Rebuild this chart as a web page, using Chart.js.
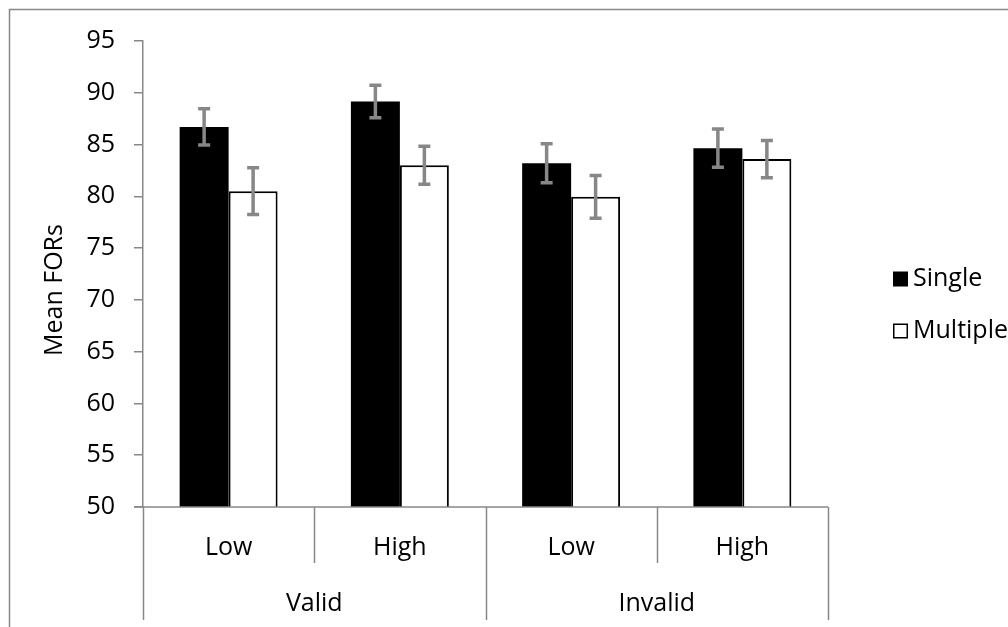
<!DOCTYPE html>
<html>
<head>
<meta charset="utf-8">
<script src="https://cdn.jsdelivr.net/npm/chart.js@4.4.1/dist/chart.umd.min.js"></script>
<style>
  html, body { margin: 0; padding: 0; background: #ffffff; }
  #wrap { width: 1008px; height: 627px; overflow: hidden; }
</style>
</head>
<body>
<div id="wrap"><canvas id="c" width="1008" height="627"></canvas></div>
<script>
// ---- data ----
const groups = ['Valid', 'Invalid'];
const levels = ['Low', 'High', 'Low', 'High'];
const seriesNames = ['Single', 'Multiple'];
const singleValues = [86.7, 89.15, 83.2, 84.65];
const singleErrors = [1.75, 1.57, 1.88, 1.85];
const multipleValues = [80.5, 83.0, 79.95, 83.6];
const multipleErrors = [2.25, 1.83, 2.07, 1.8];
const yTicks = [50, 55, 60, 65, 70, 75, 80, 85, 90, 95];
const yTitle = 'Mean FORs';

const FONT = '"Open Sans", "DejaVu Sans", sans-serif';
const GRAY = '#878787';
const ERR = '#878787';

const errors = [singleErrors, multipleErrors];

const framePlugin = {
  id: 'frame',
  beforeDraw(chart) {
    const ctx = chart.ctx;
    ctx.save();
    ctx.fillStyle = '#ffffff';
    ctx.fillRect(0, 0, chart.width, chart.height);
    ctx.strokeStyle = GRAY;
    ctx.lineWidth = 1.5;
    ctx.strokeRect(9.5, 9.5, 1200, 800);
    ctx.restore();
  }
};

const errorBarPlugin = {
  id: 'errorBars',
  afterDatasetsDraw(chart) {
    const ctx = chart.ctx;
    const y = chart.scales.y;
    ctx.save();
    ctx.strokeStyle = ERR;
    ctx.lineWidth = 3.5;
    chart.data.datasets.forEach((ds, di) => {
      const meta = chart.getDatasetMeta(di);
      meta.data.forEach((bar, i) => {
        const v = ds.data[i];
        const e = errors[di][i];
        const yt = y.getPixelForValue(v + e);
        const yb = y.getPixelForValue(v - e);
        const x = bar.x;
        const cap = 6;
        ctx.beginPath();
        ctx.moveTo(x, yt); ctx.lineTo(x, yb);
        ctx.moveTo(x - cap, yt); ctx.lineTo(x + cap, yt);
        ctx.moveTo(x - cap, yb); ctx.lineTo(x + cap, yb);
        ctx.stroke();
      });
    });
    ctx.restore();
  }
};

const axisPlugin = {
  id: 'hierAxis',
  afterDraw(chart) {
    const ctx = chart.ctx;
    const xs = chart.scales.x;
    const area = chart.chartArea;
    const n = levels.length;
    const step = (area.right - area.left) / n;
    ctx.save();
    ctx.strokeStyle = GRAY;
    ctx.lineWidth = 1.5;
    // x axis line
    ctx.beginPath();
    ctx.moveTo(area.left - 9, area.bottom);
    ctx.lineTo(area.right, area.bottom);
    ctx.stroke();
    // dividers
    for (let i = 0; i <= n; i++) {
      const x = Math.round(area.left + i * step) + 0.5;
      const outer = (i % 2 === 0);
      ctx.beginPath();
      ctx.moveTo(x, area.bottom);
      ctx.lineTo(x, area.bottom + (outer ? 113 : 56));
      ctx.stroke();
    }
    // level labels
    ctx.fillStyle = '#000000';
    ctx.font = '25px ' + FONT;
    ctx.textAlign = 'center';
    ctx.textBaseline = 'alphabetic';
    levels.forEach((lab, i) => {
      const x = xs.getPixelForValue(i);
      ctx.fillText(lab, x, area.bottom + 48);
    });
    groups.forEach((g, gi) => {
      const x = (xs.getPixelForValue(gi * 2) + xs.getPixelForValue(gi * 2 + 1)) / 2;
      ctx.fillText(g, x, area.bottom + 104);
    });
    // y title
    ctx.save();
    ctx.translate(62, 290);
    ctx.rotate(-Math.PI / 2);
    ctx.textAlign = 'center';
    ctx.textBaseline = 'alphabetic';
    ctx.fillText(yTitle, 0, 0);
    ctx.restore();
    // legend
    const lx = 893, ly = [279, 331];
    ctx.textAlign = 'left';
    ctx.textBaseline = 'middle';
    seriesNames.forEach((name, i) => {
      const sq = 15;
      if (i === 0) {
        ctx.fillStyle = '#000000';
        ctx.fillRect(lx, ly[i] - sq / 2, sq, sq);
      } else {
        ctx.fillStyle = '#ffffff';
        ctx.fillRect(lx, ly[i] - sq / 2, sq, sq);
        ctx.strokeStyle = '#000000';
        ctx.lineWidth = 1.5;
        ctx.strokeRect(lx + 0.75, ly[i] - sq / 2 + 0.75, sq - 1.5, sq - 1.5);
      }
      ctx.fillStyle = '#000000';
      ctx.fillText(name, lx + 20, ly[i]);
    });
    ctx.restore();
  }
};

new Chart(document.getElementById('c'), {
  type: 'bar',
  data: {
    labels: levels,
    datasets: [
      {
        label: seriesNames[0],
        data: singleValues,
        backgroundColor: '#000000',
        borderColor: '#000000',
        borderWidth: 0
      },
      {
        label: seriesNames[1],
        data: multipleValues,
        backgroundColor: '#ffffff',
        borderColor: '#000000',
        borderWidth: 2
      }
    ]
  },
  options: {
    responsive: false,
    animation: false,
    devicePixelRatio: 1,
    layout: { padding: { top: 41, right: 180, bottom: 0, left: 0 } },
    plugins: {
      legend: { display: false },
      tooltip: { enabled: false },
      title: { display: false }
    },
    datasets: {
      bar: { categoryPercentage: 0.572, barPercentage: 1.0 }
    },
    scales: {
      x: {
        type: 'category',
        grid: { display: false },
        border: { display: false },
        ticks: { display: false },
        afterFit(scale) { scale.height = 120; }
      },
      y: {
        min: 50,
        max: 95,
        afterBuildTicks(scale) { scale.ticks = yTicks.map(v => ({ value: v })); },
        grid: {
          drawOnChartArea: false,
          drawTicks: true,
          tickLength: 9,
          color: GRAY,
          lineWidth: 1.5
        },
        border: { display: true, color: GRAY, width: 1.5 },
        ticks: {
          color: '#000000',
          font: { family: FONT, size: 25 },
          padding: 19
        },
        afterFit(scale) { scale.width = 143; }
      }
    }
  },
  plugins: [framePlugin, errorBarPlugin, axisPlugin]
});
</script>
</body>
</html>
